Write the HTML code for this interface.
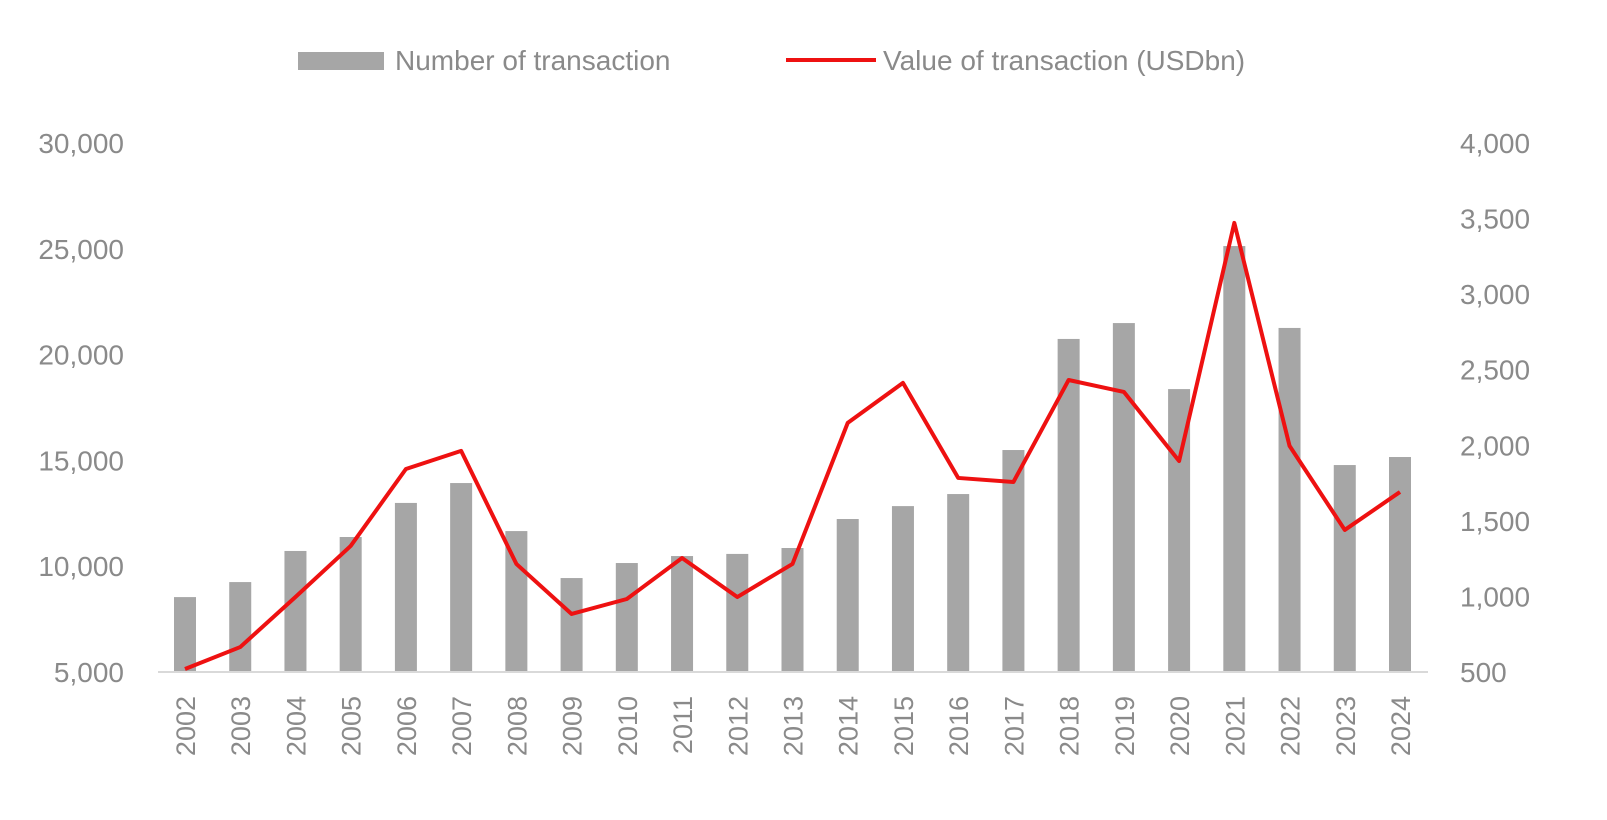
<!DOCTYPE html>
<html><head><meta charset="utf-8">
<style>
body{margin:0;background:#fff;}
svg text{font-family:"Liberation Sans",sans-serif;fill:#8a8a8a;}
</style></head>
<body>
<svg id="chart" width="1607" height="815" viewBox="0 0 1607 815" xmlns="http://www.w3.org/2000/svg">
<g>
<rect x="298" y="52" width="86" height="18" fill="#a6a6a6"/>
<text x="395" y="70" font-size="28">Number of transaction</text>
<line x1="786" y1="60" x2="876" y2="60" stroke="#ee1111" stroke-width="4"/>
<text x="883" y="70" font-size="28">Value of transaction (USDbn)</text>
</g>
<g id="bars"></g>
<line x1="158" y1="672" x2="1428" y2="672" stroke="#d9d9d9" stroke-width="2"/>
<polyline id="line" fill="none" stroke="#ee1111" stroke-width="4" stroke-linejoin="round"/>
<g id="yl"></g>
<g id="yr"></g>
<g id="xl"></g>
</svg>
<script>
const years=[2002,2003,2004,2005,2006,2007,2008,2009,2010,2011,2012,2013,2014,2015,2016,2017,2018,2019,2020,2021,2022,2023,2024];
const counts=[8540,9250,10720,11380,12990,13930,11660,9440,10150,10480,10580,10860,12230,12840,13410,15490,20740,21490,18370,25130,21260,14780,15160];
const values=[520,665,996,1334,1843,1963,1215,884,983,1254,996,1215,2148,2413,1784,1757,2432,2353,1896,3471,1996,1440,1691];
const leftTicks=[5000,10000,15000,20000,25000,30000];
const rightTicks=[500,1000,1500,2000,2500,3000,3500,4000];
const NS="http://www.w3.org/2000/svg";
const y0=672,y1=143;
const yL=v=>y0-(v-5000)/(30000-5000)*(y0-y1);
const yR=v=>y0-(v-500)/(4000-500)*(y0-y1);
const xC=i=>185+i*(1400-185)/(years.length-1);
const bw=22;
const bars=document.getElementById('bars');
counts.forEach((c,i)=>{const r=document.createElementNS(NS,'rect');
r.setAttribute('x',xC(i)-bw/2);r.setAttribute('y',yL(c));r.setAttribute('width',bw);r.setAttribute('height',y0-yL(c));r.setAttribute('fill','#a6a6a6');


bars.appendChild(r);});
document.getElementById('line').setAttribute('points',values.map((v,i)=>xC(i)+','+yR(v)).join(' '));
const yl=document.getElementById('yl');
leftTicks.forEach(t=>{const e=document.createElementNS(NS,'text');e.setAttribute('x',124);e.setAttribute('y',yL(t)+10);e.setAttribute('text-anchor','end');e.setAttribute('font-size','28');e.textContent=t.toLocaleString('en-US');


yl.appendChild(e);});
const yr=document.getElementById('yr');
rightTicks.forEach(t=>{const e=document.createElementNS(NS,'text');e.setAttribute('x',1460);e.setAttribute('y',yR(t)+10);e.setAttribute('font-size','28');e.textContent=t.toLocaleString('en-US');


yr.appendChild(e);});
const xl=document.getElementById('xl');
years.forEach((yv,i)=>{const e=document.createElementNS(NS,'text');const x=xC(i)+10,y=696;e.setAttribute('x',x);e.setAttribute('y',y);e.setAttribute('text-anchor','end');e.setAttribute('font-size','27');e.setAttribute('transform','rotate(-90 '+x+' '+y+')');e.textContent=yv;


xl.appendChild(e);});
</script>
</body></html>
